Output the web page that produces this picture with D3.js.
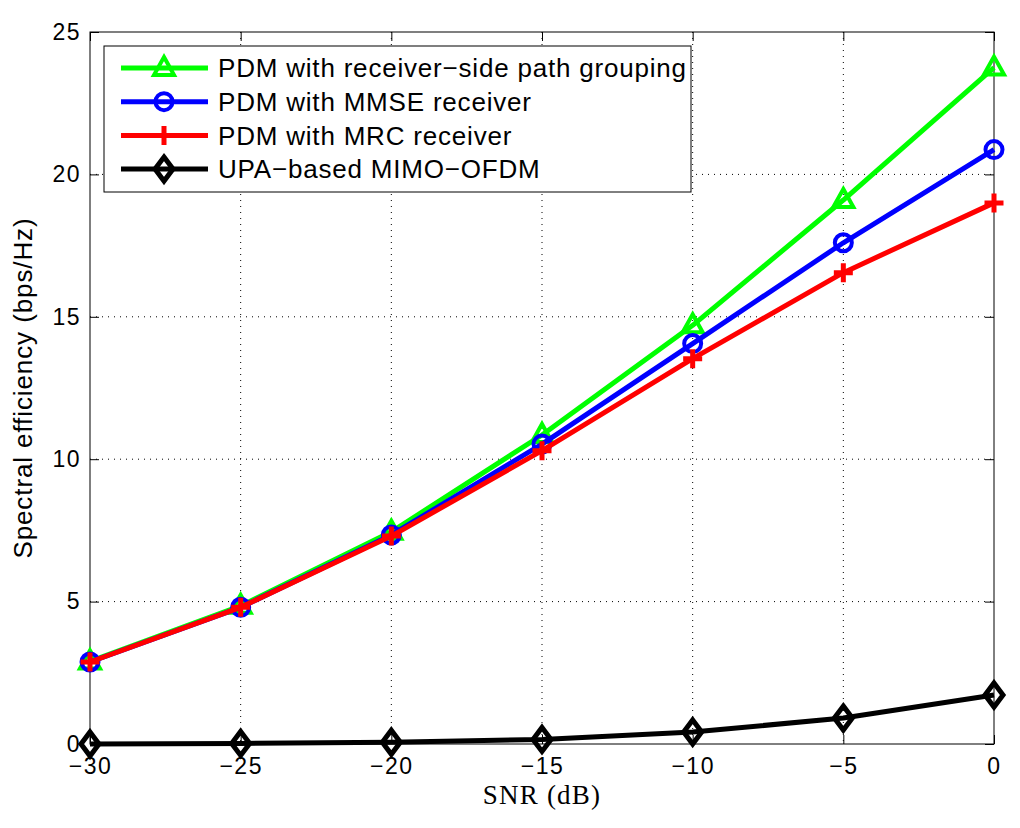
<!DOCTYPE html>
<html>
<head>
<meta charset="utf-8">
<script src="https://cdn.jsdelivr.net/npm/d3@7"></script>
<style>
  body { margin: 0; background: #fff; }
  svg { display: block; }
</style>
</head>
<body>
<div id="chart"></div>
<script>
// SNR values (dB)
const snr = [-30, -25, -20, -15, -10, -5, 0];

// Spectral efficiency (bps/Hz) per scheme
const pathGrouping = [2.9, 4.85, 7.45, 10.85, 14.7, 19.1, 23.75];
const mmse = [2.88, 4.8, 7.34, 10.53, 14.06, 17.6, 20.87];
const mrc = [2.88, 4.8, 7.3, 10.3, 13.53, 16.55, 19.0];
const upa = [0.0, 0.02, 0.06, 0.16, 0.42, 0.91, 1.72];

const seriesNames = [
    'PDM with receiver\u2212side path grouping',
    'PDM with MMSE receiver',
    'PDM with MRC receiver',
    'UPA\u2212based MIMO\u2212OFDM'
];
const seriesColors = ['#00ff00', '#0000ff', '#ff0000', '#000000'];
const seriesMarkers = ['triangle', 'circle', 'plus', 'diamond'];
const seriesValues = [pathGrouping, mmse, mrc, upa];

const xTicks = [-30, -25, -20, -15, -10, -5, 0];
const yTicks = [0, 5, 10, 15, 20, 25];

const width = 1020, height = 828;
const margin = { left: 90, right: 26, top: 32, bottom: 84 };

const svg = d3.select('#chart').append('svg')
    .attr('width', width)
    .attr('height', height);

const x = d3.scaleLinear().domain([-30, 0]).range([margin.left, width - margin.right]);
const y = d3.scaleLinear().domain([0, 25]).range([height - margin.bottom, margin.top]);

const x0 = x.range()[0], x1 = x.range()[1];
const y0 = y.range()[0], y1 = y.range()[1];

// Grid (dotted)
const grid = svg.append('g');
grid.selectAll('line.gx')
    .data(xTicks.slice(1, -1))
    .join('line')
    .attr('x1', d => x(d)).attr('x2', d => x(d))
    .attr('y1', y1).attr('y2', y0)
    .attr('stroke', '#000')
    .attr('stroke-width', 1)
    .attr('stroke-dasharray', '1,5');
grid.selectAll('line.gy')
    .data(yTicks.slice(1, -1))
    .join('line')
    .attr('x1', x0).attr('x2', x1)
    .attr('y1', d => y(d)).attr('y2', d => y(d))
    .attr('stroke', '#000')
    .attr('stroke-width', 1)
    .attr('stroke-dasharray', '1,5');

// Axes with inward ticks, on all four sides
const tickLen = 9;
const font = '"Liberation Sans", Arial, Helvetica, sans-serif';

const xAxisB = svg.append('g')
    .attr('transform', `translate(0,${y0})`)
    .call(d3.axisBottom(x).tickValues(xTicks).tickSizeInner(-tickLen).tickSizeOuter(0).tickPadding(14));
const xAxisT = svg.append('g')
    .attr('transform', `translate(0,${y1})`)
    .call(d3.axisTop(x).tickValues(xTicks).tickSizeInner(-tickLen).tickSizeOuter(0).tickFormat(''));
const yAxisL = svg.append('g')
    .attr('transform', `translate(${x0},0)`)
    .call(d3.axisLeft(y).tickValues(yTicks).tickSizeInner(-tickLen).tickSizeOuter(0).tickPadding(9));
const yAxisR = svg.append('g')
    .attr('transform', `translate(${x1},0)`)
    .call(d3.axisRight(y).tickValues(yTicks).tickSizeInner(-tickLen).tickSizeOuter(0).tickFormat(''));

[xAxisB, xAxisT, yAxisL, yAxisR].forEach(a => {
    a.select('.domain').remove();
    a.selectAll('line').attr('stroke', '#000').attr('stroke-width', 1);
    a.selectAll('text')
        .attr('fill', '#000')
        .style('font-family', font)
        .style('font-size', '23px')
        .style('letter-spacing', '1.5px');
});
xAxisB.selectAll('text').attr('dy', '0.71em');

// Plot box
svg.append('rect')
    .attr('x', x0).attr('y', y1)
    .attr('width', x1 - x0).attr('height', y0 - y1)
    .attr('fill', 'none')
    .attr('stroke', '#000')
    .attr('stroke-width', 1);

// Markers
function drawMarker(g, type, color) {
    const sw = 4;
    if (type === 'triangle') {
        g.append('path').attr('d', 'M0,-11L10,7L-10,7Z')
            .attr('fill', 'none').attr('stroke', color).attr('stroke-width', sw)
            .attr('stroke-linejoin', 'miter');
    } else if (type === 'circle') {
        g.append('circle').attr('r', 8.5)
            .attr('fill', 'none').attr('stroke', color).attr('stroke-width', sw);
    } else if (type === 'plus') {
        g.append('path').attr('d', 'M-9.5,0H9.5M0,-9.5V9.5')
            .attr('fill', 'none').attr('stroke', color).attr('stroke-width', sw + 1);
    } else if (type === 'diamond') {
        g.append('path').attr('d', 'M0,-12L9,0L0,12L-9,0Z')
            .attr('fill', 'none').attr('stroke', color).attr('stroke-width', sw + 1);
    }
}

const line = d3.line().x((d, i) => x(snr[i])).y(d => y(d));

// Draw in MATLAB plotting order
seriesValues.forEach((vals, k) => {
    const g = svg.append('g');
    g.append('path')
        .datum(vals)
        .attr('d', line)
        .attr('fill', 'none')
        .attr('stroke', seriesColors[k])
        .attr('stroke-width', 5)
        .attr('stroke-linejoin', 'round');
    g.selectAll('g.mk')
        .data(vals)
        .join('g')
        .attr('transform', (d, i) => `translate(${x(snr[i])},${y(d)})`)
        .each(function() { drawMarker(d3.select(this), seriesMarkers[k], seriesColors[k]); });
});

// Legend
const legend = svg.append('g');
legend.append('rect')
    .attr('x', 104).attr('y', 46)
    .attr('width', 587).attr('height', 146)
    .attr('fill', '#fff')
    .attr('stroke', '#000')
    .attr('stroke-width', 1);

seriesNames.forEach((name, k) => {
    const cy = 68 + k * 33.7;
    const row = legend.append('g').attr('transform', `translate(0,${cy})`);
    row.append('line')
        .attr('x1', 121).attr('x2', 208)
        .attr('y1', 0).attr('y2', 0)
        .attr('stroke', seriesColors[k])
        .attr('stroke-width', 5);
    drawMarker(row.append('g').attr('transform', 'translate(164,0)'), seriesMarkers[k], seriesColors[k]);
    row.append('text')
        .attr('x', 218)
        .attr('y', 0)
        .attr('dy', '0.36em')
        .text(name)
        .style('font-family', font)
        .style('font-size', '26px')
        .style('letter-spacing', '0.8px')
        .attr('fill', '#000');
});

// Axis labels
svg.append('text')
    .attr('x', (x0 + x1) / 2)
    .attr('y', 804)
    .attr('text-anchor', 'middle')
    .style('font-family', '"Liberation Serif", "Times New Roman", serif')
    .style('font-size', '27px')
    .style('letter-spacing', '1.2px')
    .text('SNR (dB)');

svg.append('text')
    .attr('transform', `translate(32,${(y0 + y1) / 2}) rotate(-90)`)
    .attr('text-anchor', 'middle')
    .style('font-family', font)
    .style('font-size', '26px')
    .style('letter-spacing', '0.9px')
    .text('Spectral efficiency (bps/Hz)');
</script>
</body>
</html>
